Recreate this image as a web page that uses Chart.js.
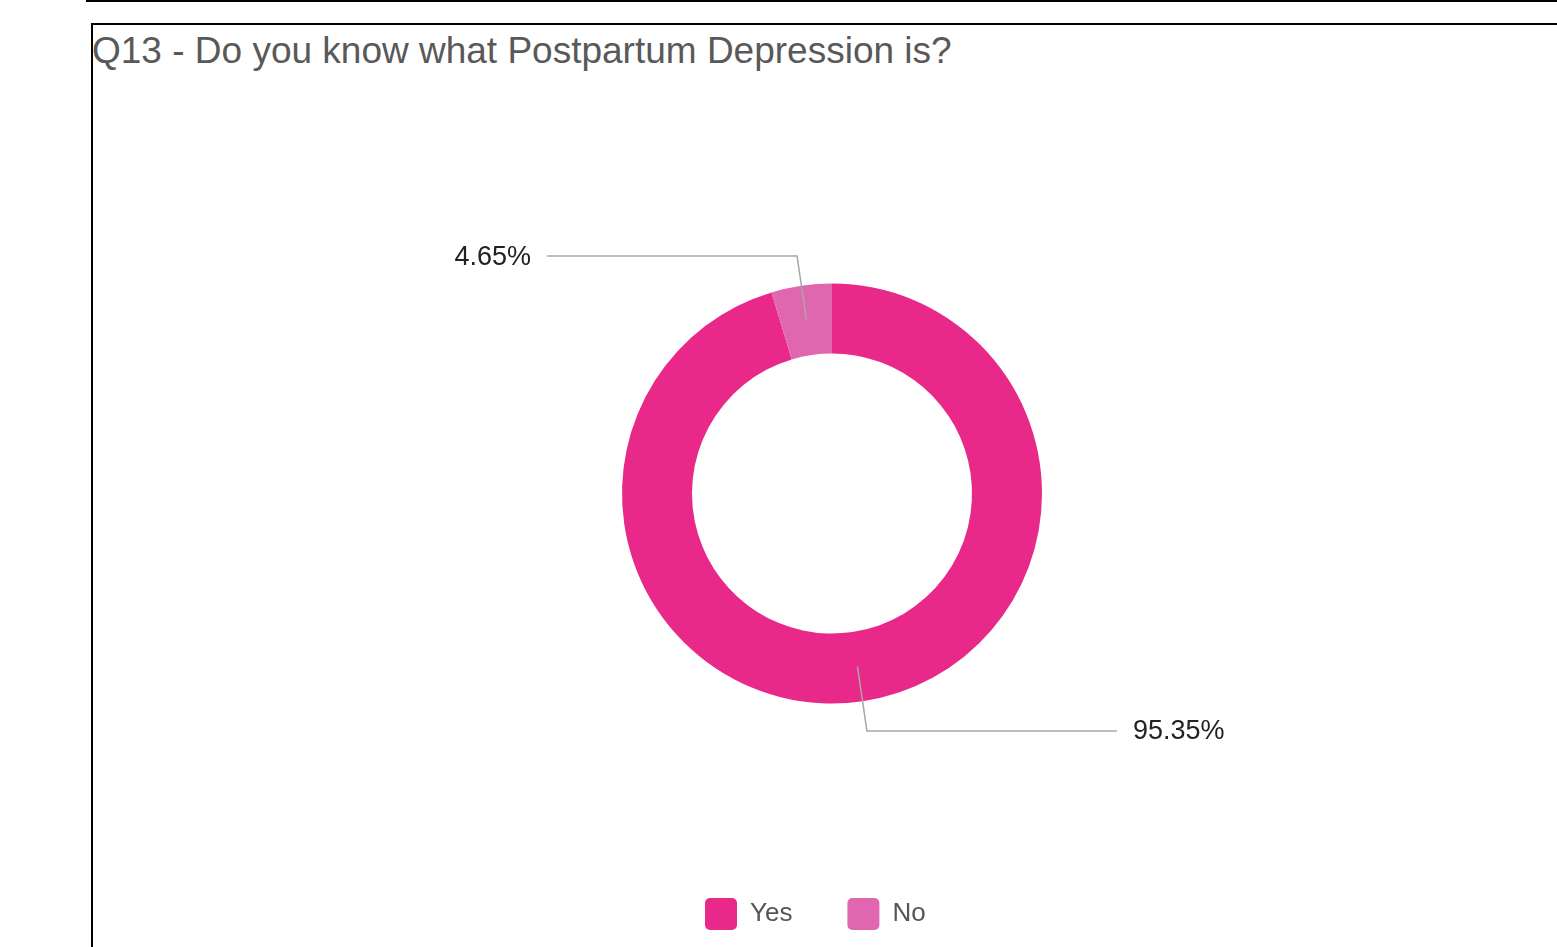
<!DOCTYPE html>
<html>
<head>
<meta charset="utf-8">
<script src="https://cdn.jsdelivr.net/npm/chart.js@4/dist/chart.umd.min.js"></script>
<style>
  html, body { margin: 0; padding: 0; background: #fff; }
  body { width: 1557px; height: 947px; overflow: hidden; position: relative; font-family: 'Liberation Sans', Arial, sans-serif; }
  .frame-top { position: absolute; left: 86px; top: -50px; width: 1600px; height: 52px; box-sizing: border-box; border: 2px solid #000; }
  .frame { position: absolute; left: 91px; top: 23px; width: 1600px; height: 1000px; box-sizing: border-box; border: 2px solid #000; }
  .title { position: absolute; left: 92px; top: 32px; font-size: 37px; line-height: 37px; color: #595959; white-space: nowrap; }
  #chart { position: absolute; left: 93px; top: 25px; }
</style>
</head>
<body>
<div class="frame-top"></div>
<div class="frame"></div>
<div class="title">Q13 - Do you know what Postpartum Depression is?</div>
<canvas id="chart" width="1464" height="922"></canvas>
<script>
// Chart data
const categories = ['Yes', 'No'];
const percentages = [95.35, 4.65];
const sliceColors = ['#e8298a', '#e066b0'];

Chart.defaults.font.family = "'Liberation Sans', Arial, sans-serif";

// leader lines + percentage labels drawn from the arc elements
const leaderLines = {
    id: 'leaderLines',
    afterDatasetsDraw(chart) {
        const { ctx } = chart;
        const meta = chart.getDatasetMeta(0);
        meta.data.forEach((arc, i) => {
            const { x, y, startAngle, endAngle, innerRadius, outerRadius } =
                arc.getProps(['x', 'y', 'startAngle', 'endAngle', 'innerRadius', 'outerRadius'], true);
            const mid = (startAngle + endAngle) / 2;
            const r0 = (innerRadius + outerRadius) / 2;
            const r1 = outerRadius + 30;
            const right = Math.cos(mid) >= 0;
            const x0 = x + Math.cos(mid) * r0, y0 = y + Math.sin(mid) * r0;
            const x1 = x + Math.cos(mid) * r1, y1 = y + Math.sin(mid) * r1;
            const x2 = x1 + (right ? 250 : -250);
            ctx.save();
            ctx.strokeStyle = '#a8a8a8';
            ctx.lineWidth = 1.5;
            ctx.beginPath();
            ctx.moveTo(x0, y0);
            ctx.lineTo(x1, y1);
            ctx.lineTo(x2, y1);
            ctx.stroke();
            ctx.font = "27px 'Liberation Sans', Arial, sans-serif";
            ctx.fillStyle = '#222';
            ctx.textAlign = right ? 'left' : 'right';
            ctx.textBaseline = 'middle';
            ctx.fillText(percentages[i].toFixed(2) + '%', x2 + (right ? 16 : -16), y1 + 1);
            ctx.restore();
        });
    }
};

const legendPad = 55;

new Chart(document.getElementById('chart'), {
    type: 'doughnut',
    data: {
        labels: categories,
        datasets: [{
            data: percentages,
            backgroundColor: sliceColors,
            borderWidth: 0,
            radius: 210,
            cutout: '66.67%',
            clip: false
        }]
    },
    options: {
        responsive: false,
        animation: false,
        layout: {
            padding: { left: 557, right: 543, top: 119, bottom: 7 }
        },
        plugins: {
            title: { display: false },
            tooltip: { enabled: false },
            legend: {
                position: 'bottom',
                align: 'start',
                labels: {
                    boxWidth: 32,
                    boxHeight: 32,
                    padding: legendPad,
                    color: '#555',
                    font: { size: 26 },
                    useBorderRadius: true,
                    borderRadius: 5,
                    generateLabels: (chart) =>
                        Chart.overrides.doughnut.plugins.legend.labels.generateLabels(chart)
                            .map(item => ({ ...item, borderRadius: 5 }))
                }
            }
        }
    },
    plugins: [leaderLines]
});
</script>
</body>
</html>
